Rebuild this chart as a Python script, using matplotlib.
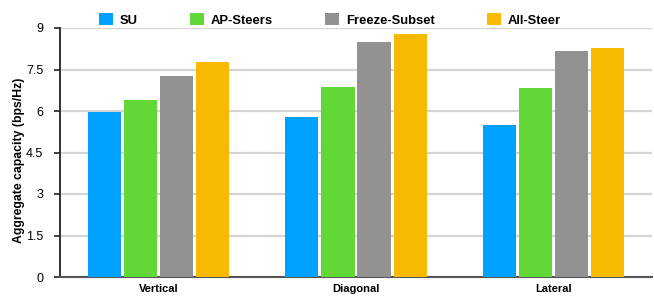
import matplotlib.pyplot as plt
import numpy as np
from matplotlib.patches import Patch

plt.rcParams["font.family"] = ["Liberation Sans", "DejaVu Sans"]

categories = ["Vertical", "Diagonal", "Lateral"]
series_names = ["SU", "AP-Steers", "Freeze-Subset", "All-Steer"]
su = [5.97, 5.78, 5.49]
ap_steers = [6.40, 6.87, 6.83]
freeze_subset = [7.27, 8.49, 8.17]
all_steer = [7.77, 8.78, 8.28]
yticks = [0, 1.5, 3, 4.5, 6, 7.5, 9]

COLORS = ["#00a2ff", "#61d836", "#929292", "#f8ba00"]

fig = plt.figure(figsize=(6.54, 2.97), dpi=100)
ax = fig.add_axes([60 / 654, 20 / 297, 592 / 654, 249 / 297])

x = np.arange(len(categories))
width = 0.168
step = 0.183
for i, (vals, cor) in enumerate(zip([su, ap_steers, freeze_subset, all_steer], COLORS)):
    ax.bar(x + (i - 1.5) * step, vals, width, color=cor, zorder=3)

ax.set_xlim(-0.5, 2.5)
ax.set_ylim(0, 9)
ax.set_yticks(yticks)
ax.set_yticklabels(["0", "1.5", "3", "4.5", "6", "7.5", "9"], fontsize=9)
ax.set_xticks(x)
ax.set_xticklabels(categories, fontsize=8, fontweight="bold")
ax.tick_params(axis="x", length=0, pad=5)
ax.tick_params(axis="y", direction="out", length=4, width=1.2, color="#222222", pad=8)
ax.yaxis.grid(True, color="#d4d4d4", lw=1.6, zorder=0)
ax.set_axisbelow(True)

for s in ["top", "right"]:
    ax.spines[s].set_visible(False)
ax.spines["left"].set_color("#222222")
ax.spines["left"].set_linewidth(1.3)
ax.spines["bottom"].set_color("#555555")
ax.spines["bottom"].set_linewidth(1.5)

ax.set_ylabel("Aggregate capacity (bps/Hz)", fontsize=8.8, fontweight="bold")
ax.yaxis.set_label_coords(-0.059, 0.47)

handles = [Patch(facecolor=c, edgecolor="none", label=n) for c, n in zip(COLORS, series_names)]
fig.legend(handles=handles, loc="center", bbox_to_anchor=(330 / 654, 1 - 20 / 297), ncol=4, frameon=False,
           prop={"weight": "bold", "size": 9.4}, handlelength=1.05, handleheight=1.05,
           handletextpad=0.55, columnspacing=4.0, borderaxespad=0, borderpad=0)

fig.savefig("out.png", dpi=100)
